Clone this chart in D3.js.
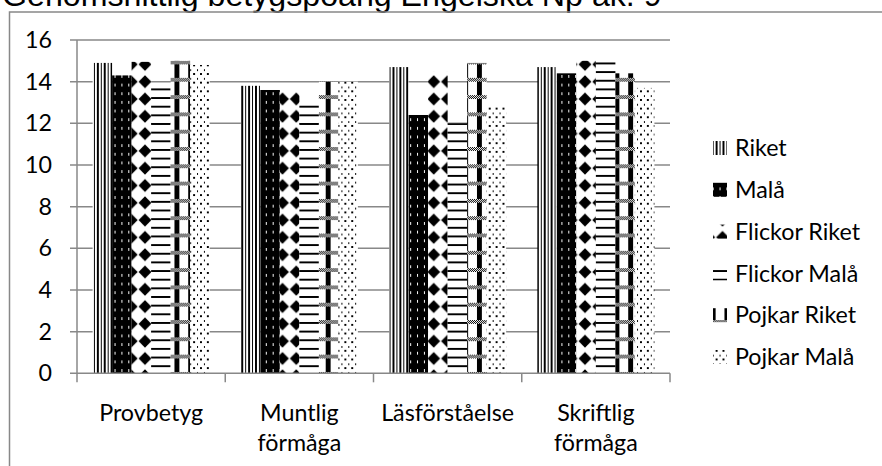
<!DOCTYPE html>
<html><head><meta charset="utf-8">
<script src="https://cdn.jsdelivr.net/npm/d3@7"></script>
<style>body{margin:0;background:#fff}svg{display:block}</style>
</head><body>
<svg id="c" width="882" height="466"></svg>
<script>
// ---- data ----
const title = "Genomsnittlig betygspoäng Engelska Np åk. 9";
const categories = ["Provbetyg", "Muntlig förmåga", "Läsförståelse", "Skriftlig förmåga"];
const seriesNames = ["Riket", "Malå", "Flickor Riket", "Flickor Malå", "Pojkar Riket", "Pojkar Malå"];
const riket        = [14.9, 13.8, 14.7, 14.7];
const mala         = [14.3, 13.6, 12.4, 14.4];
const flickorRiket = [14.95, 13.5, 14.5, 15.0];
const flickorMala  = [13.8, 13.0, 12.0, 15.1];
const pojkarRiket  = [15.0, 14.0, 14.9, 14.4];
const pojkarMala   = [14.8, 14.0, 12.8, 13.7];
const seriesValues = [riket, mala, flickorRiket, flickorMala, pojkarRiket, pojkarMala];
const yTicks = [0, 2, 4, 6, 8, 10, 12, 14, 16];

// ---- layout ----
const svg = d3.select("#c");
const plot = {left: 77, right: 670, top: 40, bottom: 373.3};
const GRID = "#888";
const FONT = "Lato, 'Open Sans', sans-serif";

const x0 = d3.scaleBand().domain(categories).range([plot.left, plot.right]).padding(0);
const x1 = d3.scaleBand().domain(seriesNames).range([15.6, x0.bandwidth() - 15.6]).padding(0);
const y = d3.scaleLinear().domain([0, 16]).range([plot.bottom, plot.top]);

// ---- patterns (global tile grid like the original) ----
const defs = svg.append("defs");
const TW = 13.75, TH = 17.3, PX = 138.125, PY = 73.05;
const sx = TW / 8, sy = TH / 8;
function pat(id) {
  const p = defs.append("pattern").attr("id", id).attr("patternUnits", "userSpaceOnUse")
    .attr("x", PX).attr("y", PY).attr("width", TW).attr("height", TH);
  p.append("rect").attr("width", TW).attr("height", TH).attr("fill", "#fff");
  return p;
}
function bitmap(p, rows, color) {
  rows.forEach((r, ry) => r.split("").forEach((b, rx) => {
    if (b === "1") p.append("rect").attr("x", rx * sx).attr("y", ry * sy)
      .attr("width", sx).attr("height", sy).attr("fill", color || "#000")
      .attr("shape-rendering", "crispEdges");
  }));
}
// Riket: narrow vertical
bitmap(pat("p0"), Array(8).fill("10101010"));
// Malå: black with white dots
{
  const p = pat("p1");
  p.append("rect").attr("width", TW).attr("height", TH).attr("fill", "#000");
  bitmap(p, ["00000000","00100010","00000000","00000000","00000000","00100010","00000000","00000000"], "#fff");
}
// Flickor Riket: solid diamonds
{
  const p = pat("p2");
  const cx = TW / 2, cy = TH / 2, w = 6.4, h = 6.6;
  p.append("polygon").attr("points", [[cx, cy - h], [cx + w, cy], [cx, cy + h], [cx - w, cy]].join(" ")).attr("fill", "#000");
}
// Flickor Malå: light horizontal
bitmap(pat("p3"), ["00000000","00000000","00000000","11111111","00000000","00000000","00000000","11111111"]);
// Pojkar Riket: plaid-like
{
  const p = pat("p4");
  bitmap(p, ["00000111","00000111","00000000","00000000","00000111","00000111","00000111","00000111"]);
  for (let yy = 2 * sy; yy < 4 * sy - 0.5; yy += 1)
    for (let xx = 0; xx < TW - 0.5; xx += 1)
      if ((Math.round(xx) + Math.round(yy)) % 2 === 0)
        p.append("rect").attr("x", xx).attr("y", yy).attr("width", 1).attr("height", 1)
          .attr("fill", "#000").attr("shape-rendering", "crispEdges");
}
// Pojkar Malå: sparse dots
bitmap(pat("p5"), ["10001000","00000000","00100010","00000000","10001000","00000000","00100010","00000000"]);

// ---- title ----
const tt = svg.append("text").attr("x", 2).attr("y", 6).attr("font-family", "'Liberation Sans', Arial, sans-serif")
  .attr("font-size", 100).attr("fill", "#000").text(title);
tt.attr("font-size", 100 * 660 / tt.node().getComputedTextLength());

// ---- chart border ----
svg.append("rect").attr("x", 9.5).attr("y", 12).attr("width", 900).attr("height", 500)
  .attr("fill", "none").attr("stroke", GRID).attr("stroke-width", 1.5);

// font size fit (Calibri-like metrics)
const probe = svg.append("text").attr("font-family", FONT).attr("font-size", 100).text("Läsförståelse");
const FS = 100 * 133 / probe.node().getComputedTextLength();
probe.remove();

// ---- grid & axes ----
const g = svg.append("g");
g.selectAll("line.grid").data(yTicks.filter(t => t > 0)).join("line")
  .attr("x1", plot.left - 7).attr("x2", plot.right).attr("y1", d => y(d)).attr("y2", d => y(d))
  .attr("stroke", GRID).attr("stroke-width", 1.5);
g.append("line").attr("x1", plot.left).attr("x2", plot.left).attr("y1", plot.top).attr("y2", plot.bottom)
  .attr("stroke", GRID).attr("stroke-width", 1.5);
g.selectAll("text.yt").data(yTicks).join("text")
  .attr("x", 52).attr("y", d => y(d)).attr("dy", "0.35em").attr("text-anchor", "end")
  .attr("font-family", FONT).attr("font-size", FS).attr("fill", "#000").text(d => d);

// ---- bars ----
seriesNames.forEach((s, j) => {
  g.selectAll("rect.s" + j).data(seriesValues[j]).join("rect")
    .attr("x", (d, i) => x0(categories[i]) + x1(s))
    .attr("y", d => y(d)).attr("width", x1.bandwidth()).attr("height", d => y(0) - y(d))
    .attr("fill", `url(#p${j})`);
});

// x axis
g.append("line").attr("x1", plot.left - 7).attr("x2", plot.right).attr("y1", plot.bottom).attr("y2", plot.bottom)
  .attr("stroke", GRID).attr("stroke-width", 1.5);
const bounds = categories.map(c => x0(c)).concat([plot.right]);
g.selectAll("line.xt").data(bounds).join("line")
  .attr("x1", d => d).attr("x2", d => d).attr("y1", plot.bottom).attr("y2", plot.bottom + 9)
  .attr("stroke", GRID).attr("stroke-width", 1.5);
categories.forEach(c => {
  const t = g.append("text").attr("text-anchor", "middle").attr("font-family", FONT)
    .attr("font-size", FS).attr("fill", "#000");
  c.split(" ").forEach((w, k) => t.append("tspan").attr("x", x0(c) + x0.bandwidth() / 2).attr("y", 421 + k * 30).text(w));
});

// ---- legend ----
const lg = svg.append("g");
seriesNames.forEach((s, j) => {
  const cy = 148 + j * 41.8;
  lg.append("rect").attr("x", 713).attr("y", cy - 7).attr("width", 14).attr("height", 14).attr("fill", `url(#p${j})`);
  lg.append("text").attr("x", 735).attr("y", cy).attr("dy", "0.35em").attr("font-family", FONT)
    .attr("font-size", FS).attr("fill", "#000").text(s);
});
</script>
</body></html>
